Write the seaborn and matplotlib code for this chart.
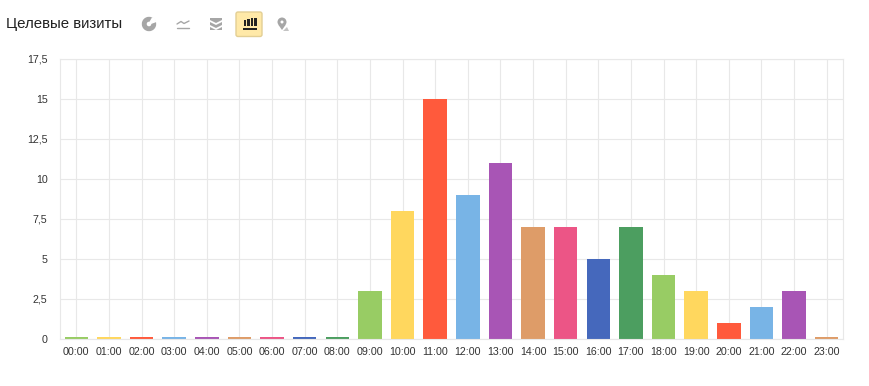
import pandas as pd
import seaborn as sns
import matplotlib.pyplot as plt
from matplotlib.patches import FancyBboxPatch, Wedge, Circle, Polygon, Rectangle

#Data
hours = ["%02d:00" % h for h in range(24)]
visits = [0.12, 0.12, 0.12, 0.12, 0.12, 0.12, 0.12, 0.12, 0.12, 3, 8, 15,
          9, 11, 7, 7, 5, 7, 4, 3, 1, 2, 3, 0.12]
colors = ["#98CC64", "#FFD75E", "#FF5A3C", "#78B4E6", "#A855B5", "#DE9C68", "#EC5586",
          "#4568BC", "#4C9E60"]
y_ticks = [0, 2.5, 5, 7.5, 10, 12.5, 15, 17.5]
y_labels = ["0", "2,5", "5", "7,5", "10", "12,5", "15", "17,5"]
title = "Целевые визиты"

sns.set_theme(style="whitegrid")
plt.rcParams['font.family'] = ['Liberation Sans', 'DejaVu Sans']

df = pd.DataFrame({"hour": hours, "visits": visits})
palette = [colors[i % len(colors)] for i in range(len(hours))]

W, H = 870, 386
fig = plt.figure(figsize=(W / 100, H / 100), dpi=100)
ax = fig.add_axes([60 / W, 1 - 339 / H, 783 / W, 280 / H])

sns.barplot(data=df, x="hour", y="visits", hue="hour", palette=palette, legend=False,
            width=0.72, saturation=1, linewidth=0, ax=ax)

ax.set_xlim(-0.5, 23.5)
ax.set_ylim(0, 17.5)
ax.set_yticks(y_ticks)
ax.set_yticklabels(y_labels)
ax.set_xlabel("")
ax.set_ylabel("")
ax.set_axisbelow(True)
ax.grid(True, color="#E8E8E8", lw=0.8)
ax.tick_params(axis="x", labelsize=7.7, colors="#333333", length=0, pad=6)
ax.tick_params(axis="y", labelsize=7.7, colors="#333333", length=0, pad=9)
for s in ax.spines.values():
    s.set_color("#E8E8E8")
    s.set_linewidth(0.8)

#Toolbar on top, in pixel coordinates
bar = fig.add_axes([0, 0, 1, 1], facecolor="none")
bar.set_xlim(0, W)
bar.set_ylim(H, 0)
bar.axis("off")
bar.text(6, 24, title, fontsize=10.8, color="#222222", va="center", ha="left")

grey = "#A6A6A6"
#pie icon
bar.add_patch(Wedge((149, 24), 6.5, 0, 360, width=3.5, color=grey))
bar.add_patch(Wedge((149, 24), 7, -60, -20, color="white"))
#line icon
bar.plot([177, 181, 184, 189], [24, 21.5, 23.5, 21], color=grey, lw=1)
bar.plot([177, 189], [27.5, 27.5], color=grey, lw=1)
#stacked area icon
bar.add_patch(Polygon([(210, 18), (222, 18), (222, 20), (216, 23), (210, 20)], fc=grey, lw=0))
bar.add_patch(Polygon([(210, 22), (216, 25), (222, 22), (222, 25), (216, 28), (210, 25)], fc=grey, lw=0))
bar.add_patch(Polygon([(210, 27), (216, 30), (222, 27), (222, 30), (210, 30)], fc=grey, lw=0))
#active button
bar.add_patch(FancyBboxPatch((236, 12), 26, 24.5, boxstyle="round,pad=0,rounding_size=2",
                             fc="#FFE9A8", ec="#E3CF94", lw=1))
for x0, top in [(244, 20), (247.5, 19), (251, 18), (254.5, 18)]:
    bar.add_patch(Rectangle((x0, top), 2.2, 26 - top, fc="#222222", lw=0))
bar.add_patch(Rectangle((243, 28), 14, 2, fc="#222222", lw=0))
#map icon
bar.add_patch(Circle((282, 22), 4.5, fc=grey, lw=0))
bar.add_patch(Circle((282, 22), 1.5, fc="white", lw=0))
bar.add_patch(Polygon([(278.5, 25), (285.5, 25), (282, 30)], fc=grey, lw=0))
bar.add_patch(Polygon([(283, 31), (287, 27), (289, 31)], fc="#C4C4C4", lw=0))

fig.savefig("out.png", dpi=100)
